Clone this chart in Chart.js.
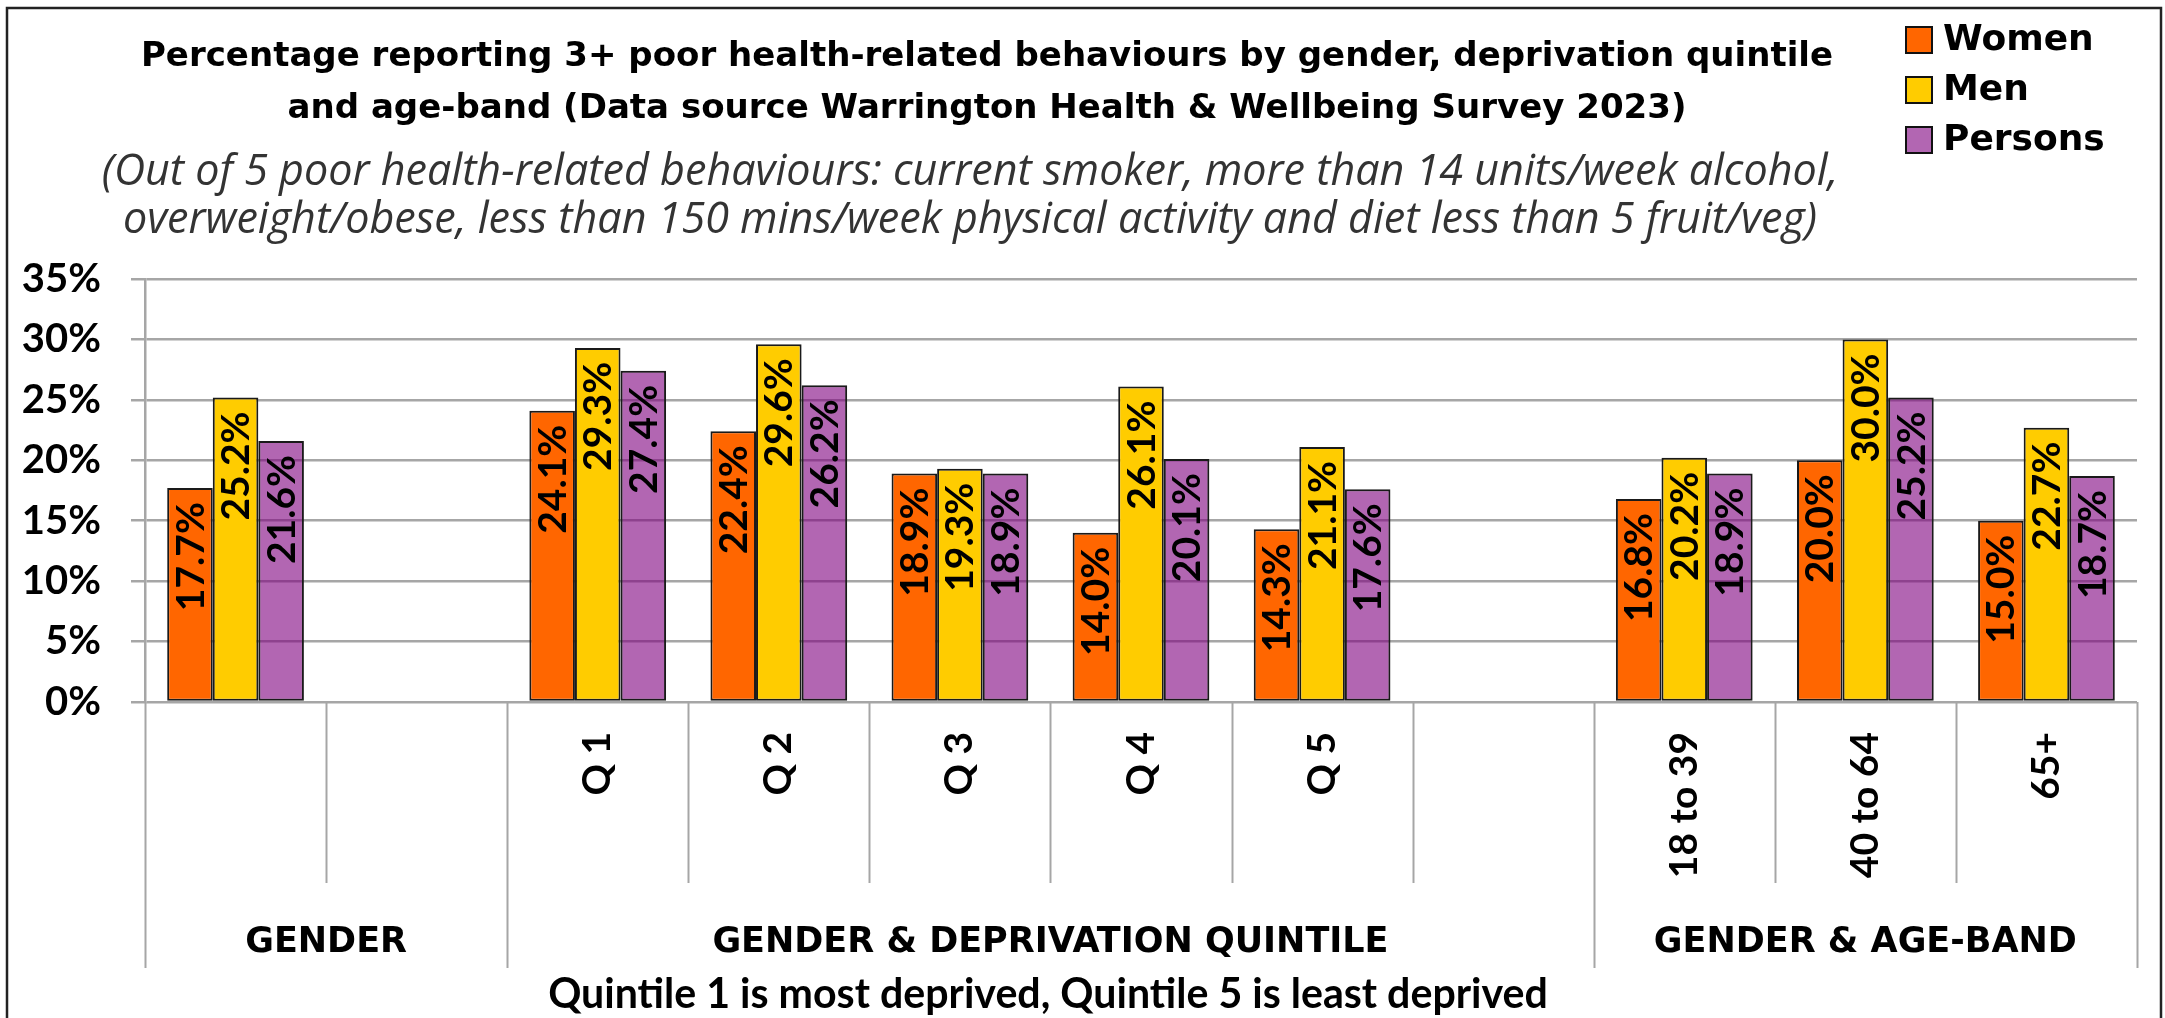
<!DOCTYPE html>
<html>
<head>
<meta charset="utf-8">
<title>Poor health-related behaviours</title>
<script src="https://cdn.jsdelivr.net/npm/chart.js@4.4.1/dist/chart.umd.min.js"></script>
<style>
    html, body { margin: 0; padding: 0; background: #fff; }
    #wrap { position: relative; width: 2165px; height: 1018px; }
</style>
</head>
<body>
<div id="wrap"><canvas id="chart"></canvas></div>
<script>
// === Data ===
const categories = ['', '', 'Q 1', 'Q 2', 'Q 3', 'Q 4', 'Q 5', '', '18 to 39', '40 to 64', '65+'];
const women   = [17.7, null, 24.1, 22.4, 18.9, 14.0, 14.3, null, 16.8, 20.0, 15.0];
const men     = [25.2, null, 29.3, 29.6, 19.3, 26.1, 21.1, null, 20.2, 30.0, 22.7];
const persons = [21.6, null, 27.4, 26.2, 18.9, 20.1, 17.6, null, 18.9, 25.2, 18.7];
const seriesNames = ['Women', 'Men', 'Persons'];

const groupLabels = ['GENDER', 'GENDER & DEPRIVATION QUINTILE', 'GENDER & AGE-BAND'];
const groupStarts = [0, 2, 8];
const groupEnds   = [2, 8, 11];

const yMin = 0, yMax = 35, yStep = 5;

const titleLines = [
    'Percentage reporting 3+ poor health-related behaviours by gender, deprivation quintile',
    'and age-band (Data source Warrington Health & Wellbeing Survey 2023)'
];
const subtitleLines = [
    '(Out of 5 poor health-related behaviours: current smoker, more than 14 units/week alcohol,',
    'overweight/obese, less than 150 mins/week physical activity and diet less than 5 fruit/veg)'
];
const footnote = 'Quintile 1 is most deprived, Quintile 5 is least deprived';

// === Styles ===
// ungu agak transparan supaya garis grid tampak di baliknya, seperti aslinya
const colors = ['#FF6600', '#FFCC00', 'rgba(127, 0, 127, 0.6)'];
const swatchColors = ['#FF6600', '#FFCC00', '#B266B2'];
const gridColor = '#a6a6a6';
const FONT = 'Lato, "Open Sans", sans-serif';
const WIDE = '"DejaVu Sans", Verdana, sans-serif';
const ITALIC = '"Open Sans", "DejaVu Sans", sans-serif';

// ukuran font supaya teks selebar target
function fitSize(ctx, text, style, family, targetWidth) {
    ctx.font = `${style} 40px ${family}`;
    return 40 * targetWidth / ctx.measureText(text).width;
}

// Judul, subjudul, legenda, garis pemisah kategori, label grup
const decorations = {
    id: 'decorations',
    afterDraw(chart) {
        const ctx = chart.ctx;
        const xs = chart.scales.x;
        const area = chart.chartArea;
        const step = xs.width / categories.length;
        ctx.save();

        // bingkai luar
        ctx.strokeStyle = '#222';
        ctx.lineWidth = 2.5;
        ctx.strokeRect(7, 8, 2154, 1030);

        // judul
        ctx.fillStyle = '#000';
        ctx.textAlign = 'center';
        ctx.textBaseline = 'alphabetic';
        const ts = fitSize(ctx, titleLines[0], 'bold', WIDE, 1693);
        ctx.font = `bold ${ts}px ${WIDE}`;
        ctx.fillText(titleLines[0], 987, 66);
        ctx.fillText(titleLines[1], 987, 118);

        ctx.fillStyle = '#333';
        const ss = fitSize(ctx, subtitleLines[0], 'italic', ITALIC, 1737);
        ctx.font = `italic ${ss}px ${ITALIC}`;
        ctx.fillText(subtitleLines[0], 970, 185);
        ctx.fillText(subtitleLines[1], 970, 233);

        // legenda
        ctx.textAlign = 'left';
        ctx.textBaseline = 'middle';
        ctx.font = 'bold 36px ' + WIDE;
        seriesNames.forEach((name, i) => {
            const cy = 40 + i * 50;
            ctx.fillStyle = swatchColors[i];
            ctx.fillRect(1906, cy - 13, 26, 26);
            ctx.strokeStyle = '#111';
            ctx.lineWidth = 2;
            ctx.strokeRect(1906, cy - 13, 26, 26);
            ctx.fillStyle = '#000';
            ctx.fillText(name, 1943, cy + 1);
        });

        // garis pemisah kategori di bawah sumbu
        ctx.strokeStyle = gridColor;
        ctx.lineWidth = 2;
        for (let i = 0; i <= categories.length; i++) {
            const bx = Math.round(xs.left + i * step) + 0.5;
            const isGroupEdge = groupStarts.includes(i) || i === categories.length;
            ctx.beginPath();
            ctx.moveTo(bx, area.bottom);
            ctx.lineTo(bx, area.bottom + (isGroupEdge ? 266 : 181));
            ctx.stroke();
        }

        // label grup
        ctx.fillStyle = '#000';
        ctx.textAlign = 'center';
        ctx.textBaseline = 'middle';
        ctx.font = 'bold 35px ' + WIDE;
        groupLabels.forEach((label, g) => {
            const cx = xs.left + (groupStarts[g] + groupEnds[g]) / 2 * step;
            ctx.fillText(label, cx, area.bottom + 241);
        });

        // catatan kuintil, di bawah grup deprivasi
        const fs = fitSize(ctx, footnote, 'bold', FONT, 1000);
        ctx.font = `bold ${fs}px ${FONT}`;
        ctx.fillText(footnote, 1048, area.bottom + 293);

        ctx.restore();
    }
};

// Label nilai vertikal di dalam batang
const barLabels = {
    id: 'barLabels',
    afterDatasetsDraw(chart) {
        const ctx = chart.ctx;
        ctx.save();
        ctx.fillStyle = '#000';
        ctx.font = 'bold 39px ' + FONT;
        ctx.textAlign = 'right';
        ctx.textBaseline = 'middle';
        chart.data.datasets.forEach((ds, di) => {
            const meta = chart.getDatasetMeta(di);
            meta.data.forEach((bar, i) => {
                const v = ds.data[i];
                if (v === null || v === undefined) return;
                ctx.save();
                ctx.translate(bar.x, bar.y + 14);
                ctx.rotate(-Math.PI / 2);
                ctx.fillText(v.toFixed(1) + '%', 0, 1);
                ctx.restore();
            });
        });
        ctx.restore();
    }
};

const ctx = document.getElementById('chart').getContext('2d');
new Chart(ctx, {
    type: 'bar',
    data: {
        labels: categories,
        datasets: [women, men, persons].map((vals, i) => ({
            label: seriesNames[i],
            data: vals,
            backgroundColor: colors[i],
            borderColor: '#1a1a1a',
            borderWidth: 2,
            borderSkipped: false,
            categoryPercentage: 0.755,
            barPercentage: 1.0
        }))
    },
    options: {
        responsive: true,
        maintainAspectRatio: false,
        animation: false,
        layout: {
            padding: { top: 279, left: 0, right: 28, bottom: 0 }
        },
        plugins: {
            legend: { display: false },
            title: { display: false },
            tooltip: { enabled: false }
        },
        scales: {
            x: {
                afterFit: (scale) => { scale.height = 316; },
                grid: { display: false, drawTicks: false },
                border: { display: false },
                ticks: {
                    autoSkip: false,
                    minRotation: 90,
                    maxRotation: 90,
                    padding: 30,
                    color: '#000',
                    font: { family: FONT, size: 39, weight: 'bold' }
                }
            },
            y: {
                min: yMin,
                max: yMax,
                afterFit: (scale) => { scale.width = 145; },
                grid: {
                    color: gridColor,
                    lineWidth: 2.5,
                    tickLength: 14
                },
                border: { display: true, color: gridColor, width: 2.5 },
                ticks: {
                    stepSize: yStep,
                    padding: 30,
                    color: '#000',
                    font: { family: FONT, size: 40, weight: 'bold' },
                    callback: (v) => v + '%'
                }
            }
        }
    },
    plugins: [decorations, barLabels]
});
</script>
</body>
</html>
